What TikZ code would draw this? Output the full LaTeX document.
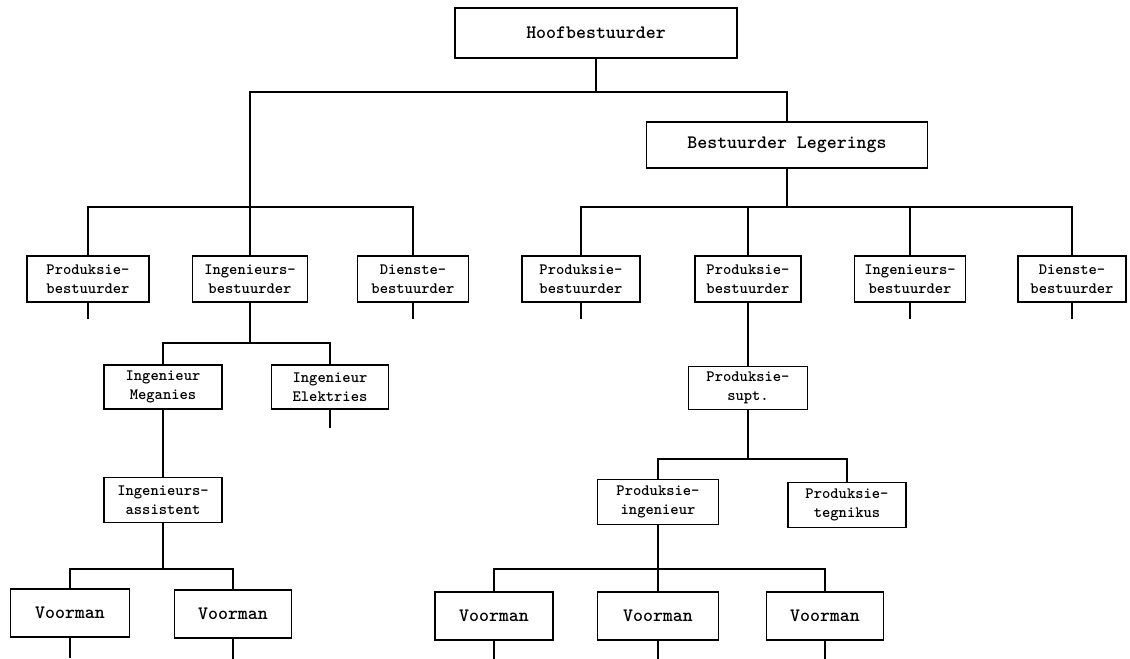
\documentclass[tikz,border=0pt]{standalone}
\usepackage{tikz}
\usetikzlibrary{positioning, calc}

\tikzset{
	posbox/.style={draw, line width=1pt, align=center, inner sep=1pt,
		font=\ttfamily\bfseries\fontsize{9}{11}\selectfont,
		minimum width=2.3cm, minimum height=0.92cm},
	bigbox/.style={posbox, font=\ttfamily\bfseries\fontsize{10.8}{12}\selectfont},
	link/.style={-, line width=1pt},
}

\begin{document}
\begin{tikzpicture}[x=0.02cm, y=-0.02cm]
						\useasboundingbox (0,0) rectangle (1130,659);
						\coordinate (barA) at (0,92);
						\coordinate (barB) at (0,207);
						\coordinate (barC) at (0,343);
						\coordinate (barD) at (0,459);
						\coordinate (barE) at (0,569);
						\node[bigbox, minimum width=5.64cm, minimum height=1.0cm] (hoof) at (596,33) {Hoofbestuurder};
						\node[bigbox, minimum width=5.62cm] (leger) at (787,145) {Bestuurder Legerings};
						\node[posbox, minimum width=2.45cm] (prodA) at (88,279) {Produksie-\\bestuurder};
						\node[posbox] (ingA) at (250,279) {Ingenieurs-\\bestuurder};
						\node[posbox, minimum width=2.22cm] (dienA) at (413,279) {Dienste-\\bestuurder};
						\node[posbox, minimum width=2.36cm] (prodB) at (581,279) {Produksie-\\bestuurder};
						\node[posbox, minimum width=2.12cm] (prodC) at (748,279) {Produksie-\\bestuurder};
						\node[posbox, minimum width=2.22cm] (ingB) at (910,279) {Ingenieurs-\\bestuurder};
						\node[posbox, minimum width=2.16cm] (dienB) at (1072,279) {Dienste-\\bestuurder};
						\node[posbox, minimum width=2.36cm, minimum height=0.88cm] (mega) at (163,387) {Ingenieur\\Meganies};
						\node[posbox, minimum width=2.34cm, minimum height=0.88cm] (elek) at (330,387) {Ingenieur\\Elektries};
						\node[posbox, minimum width=2.36cm, minimum height=0.9cm] (assis) at (163,500) {Ingenieurs-\\assistent};
						\node[posbox, minimum width=2.38cm, minimum height=0.86cm] (supt) at (748,388) {Produksie-\\supt.};
						\node[posbox, minimum width=2.42cm, minimum height=0.9cm] (proding) at (658,502) {Produksie-\\ingenieur};
						\node[posbox, minimum width=2.36cm, minimum height=0.9cm] (tegn) at (847,505) {Produksie-\\tegnikus};
						\node[bigbox, minimum width=2.38cm, minimum height=0.96cm] (voorA) at (70,613) {Voorman};
						\node[bigbox, minimum width=2.34cm, minimum height=0.96cm] (voorB) at (233,614) {Voorman};
						\node[bigbox, minimum width=2.36cm, minimum height=0.96cm] (voorC) at (494,616) {Voorman};
						\node[bigbox, minimum width=2.42cm, minimum height=0.96cm] (voorD) at (658,616) {Voorman};
						\node[bigbox, minimum width=2.34cm, minimum height=0.96cm] (voorE) at (825,616) {Voorman};
						\draw[link] (hoof.south) |- (ingA.north |- barA) -- (ingA.north);
						\draw[link] (hoof.south) |- (leger.north |- barA) -- (leger.north);
						\foreach \c in {prodA, dienA}
							\draw[link] (ingA.north |- barB) -| (\c.north);
						\foreach \c in {prodB, prodC, ingB, dienB}
							\draw[link] (leger.south) |- (\c.north |- barB) -- (\c.north);
						\foreach \c in {prodA, dienA, prodB, ingB, dienB}
							\draw[link] (\c.south) -- ++(0,16);
						\foreach \c in {mega, elek}
							\draw[link] (ingA.south) |- (\c.north |- barC) -- (\c.north);
						\draw[link] (elek.south) -- ++(0,18);
						\draw[link] (mega.south) -- (assis.north);
						\foreach \c in {voorA, voorB}
							\draw[link] (assis.south) |- (\c.north |- barE) -- (\c.north);
						\draw[link] (prodC.south) -- (supt.north);
						\foreach \c in {proding, tegn}
							\draw[link] (supt.south) |- (\c.north |- barD) -- (\c.north);
						\foreach \c in {voorC, voorD, voorE}
							\draw[link] (proding.south) |- (\c.north |- barE) -- (\c.north);
						\foreach \c in {voorA, voorB, voorC, voorD, voorE}
							\draw[link] (\c.south) -- ++(0,20);
					\end{tikzpicture}
\end{document}
